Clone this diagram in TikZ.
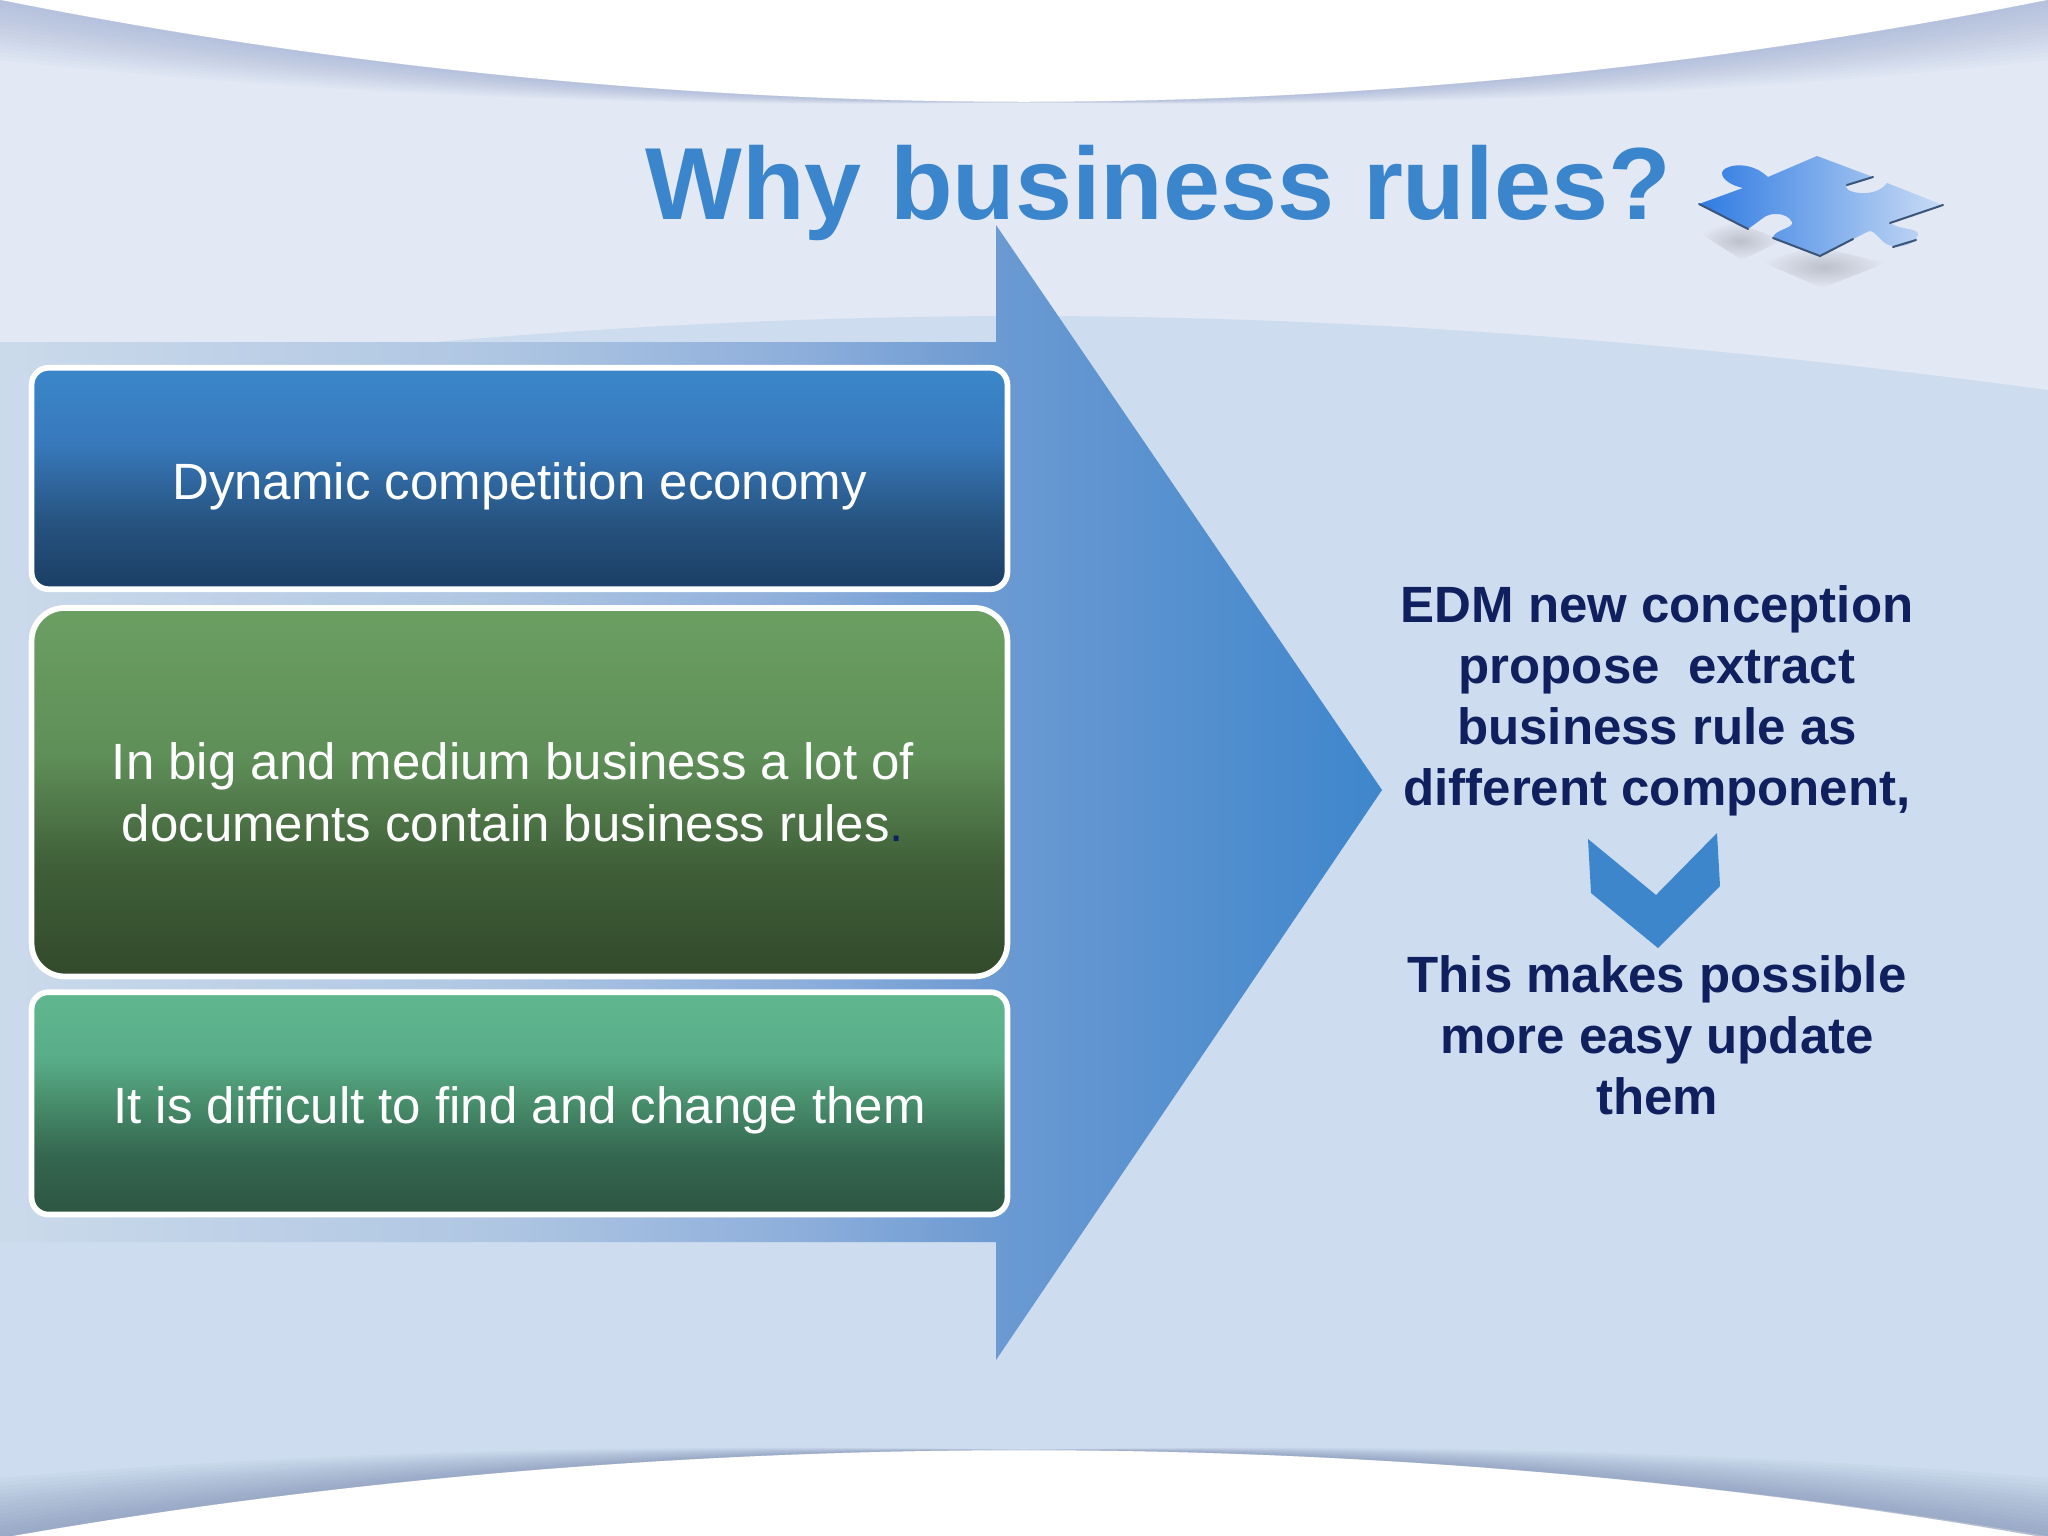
\documentclass[tikz,border=0pt]{standalone}
\usepackage{fontspec}
\setmainfont{Liberation Sans}
\usetikzlibrary{positioning}
\usetikzlibrary{shapes.geometric}

\definecolor{upperbg}{HTML}{E2E8F4}
\definecolor{lowerbg}{HTML}{CDDCEE}
\definecolor{titleblue}{HTML}{3A85CB}
\definecolor{navy}{HTML}{10205F}
\definecolor{markblue}{HTML}{3D86CC}
\definecolor{edgeshade}{HTML}{8C9CCB}
\definecolor{edgedark}{HTML}{7080A8}
\definecolor{piecedark}{HTML}{3B5479}
\definecolor{piece_a}{HTML}{2F7BE2}
\definecolor{piece_b}{HTML}{8FBDF0}
\definecolor{piece_c}{HTML}{CADCF5}

\definecolor{arrow_a}{HTML}{CBDAEB}
\definecolor{arrow_b}{HTML}{AFC6E2}
\definecolor{arrow_c}{HTML}{8DAEDB}
\definecolor{arrow_d}{HTML}{6C9AD2}
\definecolor{arrow_e}{HTML}{3E86CC}
\pgfdeclarehorizontalshading{arrowshade}{100bp}{color(0bp)=(arrow_a);color(25bp)=(arrow_a);
    color(43bp)=(arrow_b);color(54bp)=(arrow_c);color(61bp)=(arrow_d);color(75bp)=(arrow_e);color(100bp)=(arrow_e)}

\definecolor{blue_a}{HTML}{3A87C9}
\definecolor{blue_b}{HTML}{3879BC}
\definecolor{blue_c}{HTML}{26537F}
\definecolor{blue_d}{HTML}{1B3E65}
\definecolor{leaf_a}{HTML}{6B9F62}
\definecolor{leaf_b}{HTML}{5F8F58}
\definecolor{leaf_c}{HTML}{3F5F38}
\definecolor{leaf_d}{HTML}{324A2B}
\definecolor{sea_a}{HTML}{60B78F}
\definecolor{sea_b}{HTML}{58AD88}
\definecolor{sea_m}{HTML}{478C6B}
\definecolor{sea_c}{HTML}{34664F}
\definecolor{sea_d}{HTML}{2D5541}
\pgfdeclareverticalshading{blueshade}{100bp}{color(0bp)=(blue_d);color(25bp)=(blue_d);color(40bp)=(blue_c);color(58bp)=(blue_b);color(75bp)=(blue_a);color(100bp)=(blue_a)}
\pgfdeclareverticalshading{leafshade}{100bp}{color(0bp)=(leaf_d);color(25bp)=(leaf_d);color(40bp)=(leaf_c);color(55bp)=(leaf_b);color(75bp)=(leaf_a);color(100bp)=(leaf_a)}
\pgfdeclareverticalshading{seashade}{100bp}{color(0bp)=(sea_d);color(25bp)=(sea_d);color(38bp)=(sea_c);color(50bp)=(sea_m);color(60bp)=(sea_b);color(75bp)=(sea_a);color(100bp)=(sea_a)}

\tikzset{
    ruleBox/.style={draw=white, line width=0.057cm, minimum width=9.753cm, text=white, align=center,
        font=\fontsize{14.5}{17.4}\selectfont},
    sideText/.style={text=navy, align=center, inner sep=0pt, outer sep=0pt,
        font=\fontsize{14.5}{17.4}\selectfont\bfseries},
    pieceShadow/.style={inner color=black!17!upperbg, outer color=upperbg}
}

\begin{document}
\begin{tikzpicture}[x=0.01cm, y=-0.01cm]

                \useasboundingbox (0,0) rectangle (2048,1536);
                \fill[white] (0,0) rectangle (2048,1536);

                \fill[upperbg] (0,0) .. controls (300,60) and (650,102) .. (1024,102)
                    .. controls (1398,102) and (1748,60) .. (2048,0)
                    -- (2048,1536) .. controls (1748,1485) and (1398,1450) .. (1024,1450)
                    .. controls (650,1450) and (300,1485) .. (0,1538) -- cycle;
                \fill[lowerbg] (0,390) .. controls (300,350) and (650,316) .. (1024,316)
                    .. controls (1398,316) and (1748,350) .. (2048,390)
                    -- (2048,1536) .. controls (1748,1485) and (1398,1450) .. (1024,1450)
                    .. controls (650,1450) and (300,1485) .. (0,1538) -- cycle;

                \foreach \d in {4,8,...,60} {
                    \fill[edgeshade, opacity=0.038] (0,0) .. controls (300,60) and (650,102) .. (1024,102)
                        .. controls (1398,102) and (1748,60) .. (2048,0)
                        -- (2048,\d) .. controls (1748,{60+0.55*\d}) and (1398,{102+0.12*\d}) .. (1024,102)
                        .. controls (650,{102+0.12*\d}) and (300,{60+0.55*\d}) .. (0,\d) -- cycle;
                    \fill[edgedark, opacity=0.042] (0,1538) .. controls (300,1485) and (650,1450) .. (1024,1450)
                        .. controls (1398,1450) and (1748,1485) .. (2048,1538)
                        -- (2048,{1538-\d}) .. controls (1748,{1485-0.55*\d}) and (1398,{1450-0.12*\d}) .. (1024,1450)
                        .. controls (650,{1450-0.12*\d}) and (300,{1485-0.55*\d}) .. (0,{1538-\d}) -- cycle;
                }

                \shade[shading=arrowshade] (0,342) -- (996,342) -- (996,225) -- (1382,790)
                    -- (996,1360) -- (996,1242) -- (0,1242) -- cycle;

                \node[ruleBox, shading=blueshade, rounded corners=0.17cm, minimum height=2.213cm, text height=15.2pt] (box_0) at (519.5,478.5) {Dynamic competition economy};
                \node[ruleBox, shading=leafshade, rounded corners=0.33cm, minimum height=3.683cm] (box_1) [below = 0.13cm of box_0]
                    {In big and medium business a lot of\hspace*{0.13cm}\\documents contain business rules{\color{navy}.}\hspace*{0.13cm}};
                \node[ruleBox, shading=seashade, rounded corners=0.17cm, minimum height=2.223cm, text height=14.3pt] (box_2) [below = 0.1cm of box_1] {It is difficult to find and change them};

                \node[text=titleblue, font=\fontsize{29.15}{34}\selectfont\bfseries, inner sep=0pt] (title) at (1158,193) {Why business rules?};

                \node[sideText] (side_0) at (1657,701) {EDM new conception\\propose\ \ extract\\business rule as\\different component,};
                \node[sideText] (side_1) [below = 1.39cm of side_0] {This makes possible\\more easy update\\them};

                \fill[markblue] (1588,839) -- (1656,895) -- (1717,833) -- (1720,886) -- (1658,948) -- (1591,893) -- cycle;

                \shade[pieceShadow] (1698,232) -- (1735,222) -- (1782,240) -- (1742,260) -- cycle;
                \shade[pieceShadow] (1762,262) -- (1815,246) -- (1886,263) -- (1822,288) -- cycle;
                \shade[left color=piece_a, middle color=piece_b, right color=piece_c]
                    (1699,204) -- (1743,188) .. controls (1733,186) and (1722,180) .. (1722,173)
                    .. controls (1722,166) and (1745,160) .. (1763,173) -- (1768,177) -- (1817,156) -- (1873,177)
                    -- (1847,185) .. controls (1840,192) and (1875,200) .. (1887,183) -- (1943,205) -- (1890,223)
                    .. controls (1900,230) and (1918,228) .. (1918,234) .. controls (1918,246) and (1893,250) .. (1885,243)
                    .. controls (1878,238) and (1873,228) .. (1867,232) -- (1820,256) -- (1773,238)
                    .. controls (1773,230) and (1795,228) .. (1792,222) .. controls (1787,212) and (1770,212) .. (1763,218)
                    -- (1748,229) -- cycle;
                \draw[piecedark, line width=0.02cm, line cap=round] (1699,204) -- (1748,229)
                    (1773,238) -- (1820,256) -- (1853,239)
                    (1890,223) -- (1943,205)
                    (1847,185) -- (1873,177)
                    (1893,247) -- (1916,240);

                \end{tikzpicture}
\end{document}
